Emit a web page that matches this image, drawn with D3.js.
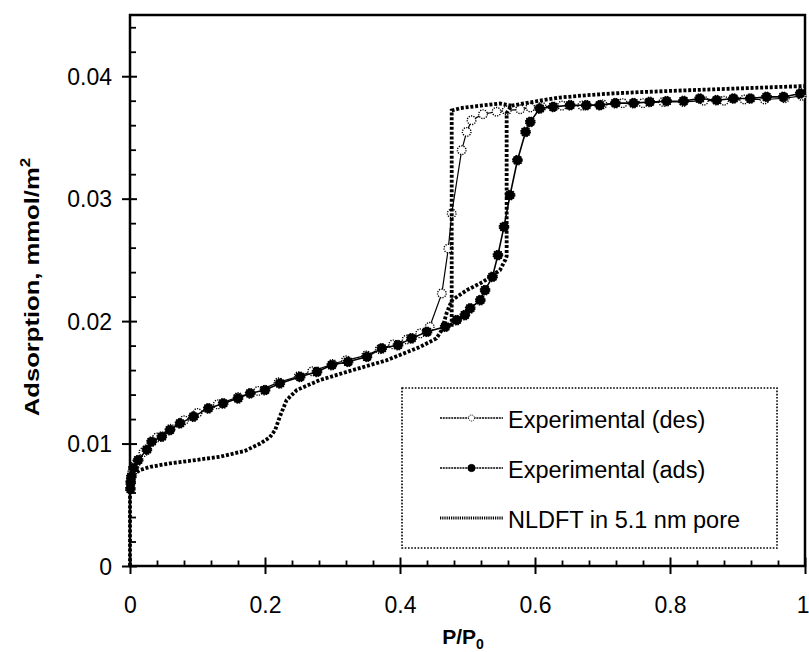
<!DOCTYPE html>
<html>
<head>
<meta charset="utf-8">
<script src="https://cdn.jsdelivr.net/npm/d3@7"></script>
<style>
  html, body { margin: 0; padding: 0; background: #fff; }
  svg { display: block; font-family: "Liberation Sans", Arial, sans-serif; }
</style>
</head>
<body>
<svg id="chart" width="809" height="652"></svg>
<script>
// ---------- data ----------
const xTickValues = [0, 0.2, 0.4, 0.6, 0.8, 1];
const yTickValues = [0, 0.01, 0.02, 0.03, 0.04];
const xTickLabels = ["0", "0.2", "0.4", "0.6", "0.8", "1"];
const yTickLabels = ["0", "0.01", "0.02", "0.03", "0.04"];
const seriesNames = ["Experimental (des)", "Experimental (ads)", "NLDFT in 5.1 nm pore"];

// Experimental adsorption branch [P/P0, mmol/m2]
const adsP = [0.0005,0.001,0.002,0.005,0.012,0.025,0.032,0.047,0.059,0.074,0.094,0.116,0.138,0.160,0.178,0.200,0.222,0.252,0.277,0.299,0.323,0.351,0.373,0.397,0.417,0.440,0.467,0.484,0.496,0.504,0.519,0.526,0.537,0.545,0.554,0.563,0.574,0.586,0.593,0.607,0.627,0.652,0.676,0.696,0.719,0.746,0.770,0.795,0.820,0.844,0.869,0.894,0.919,0.943,0.968,0.993];
const adsV = [0.0063,0.0068,0.0073,0.0080,0.00865,0.0095,0.01015,0.01056,0.0111,0.01165,0.0122,0.01287,0.01328,0.01369,0.0141,0.01437,0.01491,0.01545,0.01586,0.01641,0.01668,0.01709,0.01777,0.01804,0.01859,0.01913,0.01954,0.02008,0.02049,0.02104,0.02171,0.02253,0.02362,0.02539,0.0277,0.03029,0.03314,0.03545,0.03627,0.03736,0.0375,0.03763,0.03763,0.03763,0.0378,0.0378,0.0379,0.03796,0.03798,0.03818,0.03804,0.03818,0.03818,0.03831,0.03831,0.03859];

// Experimental desorption branch
const desP = [0.995,0.97,0.94,0.91,0.88,0.85,0.82,0.79,0.76,0.73,0.70,0.67,0.64,0.61,0.593,0.578,0.558,0.543,0.523,0.506,0.4988,0.4914,0.4766,0.4716,0.462,0.444,0.43,0.41,0.39,0.37,0.35,0.32,0.30,0.27,0.25,0.22,0.19,0.16,0.13,0.10,0.08,0.06,0.04,0.02,0.008,0.003,0.001];
const desV = [0.0384,0.0382,0.0381,0.0381,0.0380,0.0380,0.0379,0.0379,0.0378,0.0378,0.0377,0.0376,0.0376,0.0375,0.03745,0.0373,0.0372,0.0371,0.0369,0.0364,0.03545,0.03396,0.02879,0.02593,0.02226,0.01954,0.0190,0.0185,0.0181,0.0177,0.0172,0.0168,0.0165,0.0159,0.0155,0.0150,0.0143,0.0138,0.0132,0.0125,0.0119,0.0112,0.0105,0.0093,0.0083,0.0076,0.0070];

// NLDFT adsorption branch
const nldftAdsP = [0,0,0.002,0.006,0.0148,0.03,0.059,0.09,0.133,0.17,0.193,0.207,0.215,0.222,0.232,0.247,0.281,0.33,0.38,0.43,0.454,0.462,0.469,0.477,0.499,0.523,0.548,0.556,0.558,0.558,0.565,0.607,0.637,0.677,0.716,0.756,0.8,0.85,0.9,0.95,1.0];
const nldftAdsV = [0,0.0062,0.0071,0.0075,0.00784,0.0081,0.00838,0.0086,0.00892,0.0094,0.0100,0.0105,0.0111,0.0122,0.01355,0.01437,0.01518,0.0160,0.0168,0.0179,0.01859,0.01927,0.02065,0.02171,0.02253,0.02321,0.02416,0.0250,0.0253,0.0370,0.0376,0.0380,0.03826,0.03845,0.0386,0.0387,0.0388,0.0389,0.0390,0.0391,0.0392];

// NLDFT desorption branch
const nldftDesP = [0.565,0.548,0.52,0.49,0.4766,0.4766];
const nldftDesV = [0.0376,0.03777,0.0376,0.0374,0.0372,0.0195];

// ---------- layout ----------
const svg = d3.select("#chart");
const x = d3.scaleLinear().domain([0, 1]).range([130, 805]);
const y = d3.scaleLinear().domain([0, 0.045]).range([566, 15]);

const zip = (a, b) => a.map((d, i) => [d, b[i]]);
const ads = zip(adsP, adsV);
const des = zip(desP, desV);
const nAds = zip(nldftAdsP, nldftAdsV);
const nDes = zip(nldftDesP, nldftDesV);

const line = d3.line().x(d => x(d[0])).y(d => y(d[1]));

// minor ticks
const yMinor = d3.range(0, 0.0451, 0.002).filter(v => Math.abs(v / 0.01 - Math.round(v / 0.01)) > 1e-6);
const xMinor = d3.range(0, 1.0001, 0.04).filter(v => Math.abs(v / 0.2 - Math.round(v / 0.2)) > 1e-6);

const gyMinor = svg.append("g").attr("transform", `translate(${x(0)},0)`)
  .call(d3.axisLeft(y).tickValues(yMinor).tickSize(-6).tickFormat(""));
gyMinor.select(".domain").remove();
gyMinor.selectAll("line").attr("stroke", "#000").attr("stroke-width", 1.8);

const gxMinor = svg.append("g").attr("transform", `translate(0,${y(0)})`)
  .call(d3.axisBottom(x).tickValues(xMinor).tickSize(-5.5).tickFormat(""));
gxMinor.select(".domain").remove();
gxMinor.selectAll("line").attr("stroke", "#000").attr("stroke-width", 1.8);

// major ticks
const gy = svg.append("g").attr("transform", `translate(${x(0)},0)`)
  .call(d3.axisLeft(y).tickValues(yTickValues).tickSize(8).tickPadding(10)
    .tickFormat((d, i) => yTickLabels[i]));
gy.select(".domain").remove();
gy.selectAll("line").attr("x1", 7).attr("stroke", "#000").attr("stroke-width", 2);
gy.selectAll("text").attr("font-size", 23).attr("fill", "#000")
  .attr("font-family", "'Liberation Sans', Arial, sans-serif").attr("dy", "0.36em");

const gx = svg.append("g").attr("transform", `translate(0,${y(0)})`)
  .call(d3.axisBottom(x).tickValues(xTickValues).tickSize(8).tickPadding(23)
    .tickFormat((d, i) => xTickLabels[i]));
gx.select(".domain").remove();
gx.selectAll("line").attr("y1", -8.5).attr("stroke", "#000").attr("stroke-width", 2);
gx.selectAll("text").attr("font-size", 23).attr("fill", "#000")
  .attr("font-family", "'Liberation Sans', Arial, sans-serif").attr("dy", "0.71em")
  .attr("text-anchor", (d, i) => i === xTickValues.length - 1 ? "end" : "middle")
  .attr("dx", (d, i) => i === xTickValues.length - 1 ? 4 : 0);

// frame
svg.append("rect")
  .attr("x", x(0)).attr("y", y(0.045))
  .attr("width", x(1) - x(0)).attr("height", y(0) - y(0.045))
  .attr("fill", "none").attr("stroke", "#000").attr("stroke-width", 2.5);

// ---------- series ----------
// desorption (open markers)
svg.append("path").datum(des).attr("d", line)
  .attr("fill", "none").attr("stroke", "#000").attr("stroke-width", 1.2);
svg.append("g").selectAll("circle").data(des).join("circle")
  .attr("cx", d => x(d[0])).attr("cy", d => y(d[1])).attr("r", 4.3)
  .attr("fill", "#fff").attr("stroke", "#000").attr("stroke-width", 1.4)
  .attr("stroke-dasharray", "1.2,1.2");

// adsorption (filled markers)
svg.append("path").datum(ads).attr("d", line)
  .attr("fill", "none").attr("stroke", "#000").attr("stroke-width", 1.6);
svg.append("g").selectAll("circle").data(ads).join("circle")
  .attr("cx", d => x(d[0])).attr("cy", d => y(d[1])).attr("r", 4.8)
  .attr("fill", "#000").attr("stroke", "#000").attr("stroke-width", 1.2)
  .attr("stroke-dasharray", "1.5,1");

// NLDFT (thick dotted)
[nAds, nDes].forEach(s => {
  svg.append("path").datum(s).attr("d", line)
    .attr("fill", "none").attr("stroke", "#000").attr("stroke-width", 3.8)
    .attr("stroke-dasharray", "3,1.8");
});

// ---------- legend ----------
const lg = svg.append("g");
lg.append("rect").attr("x", 402).attr("y", 388).attr("width", 375).attr("height", 160)
  .attr("fill", "#fff").attr("stroke", "#000").attr("stroke-width", 1.6)
  .attr("stroke-dasharray", "1.6,1.6");
const rows = [418, 468, 518];
seriesNames.forEach((name, i) => {
  const yy = rows[i];
  if (i < 2) {
    lg.append("line").attr("x1", 440).attr("x2", 503).attr("y1", yy).attr("y2", yy)
      .attr("stroke", "#000").attr("stroke-width", 1.5).attr("stroke-dasharray", "2,0.8");
    lg.append("circle").attr("cx", 471.5).attr("cy", yy).attr("r", i === 0 ? 3 : 3.6)
      .attr("fill", i === 0 ? "#fff" : "#000").attr("stroke", "#000")
      .attr("stroke-width", 1).attr("stroke-dasharray", i === 0 ? "1,1" : null);
  } else {
    lg.append("line").attr("x1", 440).attr("x2", 503).attr("y1", yy).attr("y2", yy)
      .attr("stroke", "#000").attr("stroke-width", 3).attr("stroke-dasharray", "1.2,1");
  }
  lg.append("text").attr("x", 508).attr("y", yy + 9.5).attr("font-size", 23.5)
    .attr("fill", "#000").text(name);
});

// ---------- axis titles ----------
const xt = svg.append("text").attr("x", 463).attr("y", 644).attr("text-anchor", "middle")
  .attr("font-size", 21).attr("font-weight", "bold").attr("fill", "#000");
xt.append("tspan").text("P/P");
xt.append("tspan").attr("font-size", 14).attr("dy", 5).text("0");

const yt = svg.append("text").attr("transform", "translate(39,287) rotate(-90) scale(1.22,1)")
  .attr("text-anchor", "middle").attr("font-size", 21).attr("font-weight", "bold").attr("fill", "#000");
yt.append("tspan").text("Adsorption, mmol/m");
yt.append("tspan").attr("font-size", 14).attr("dy", -9).text("2");
</script>
</body>
</html>
